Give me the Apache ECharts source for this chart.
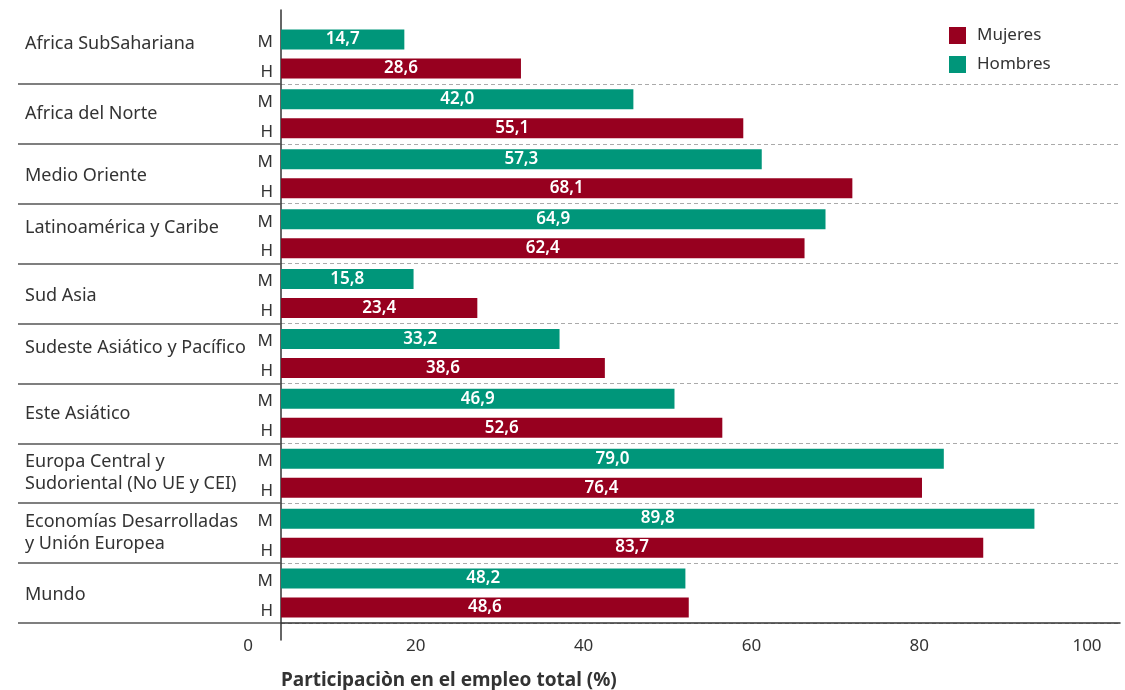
<!DOCTYPE html>
<html>
<head>
<meta charset="utf-8">
<script src="https://cdn.jsdelivr.net/npm/echarts@6/dist/echarts.min.js"></script>
<style>
  html, body { margin: 0; padding: 0; background: #fff; }
  #chart { width: 1125px; height: 690px; }
</style>
</head>
<body>
<div id="chart"></div>
<script>
// data
const regions = [
  "Africa SubSahariana",
  "Africa del Norte",
  "Medio Oriente",
  "Latinoamérica y Caribe",
  "Sud Asia",
  "Sudeste Asiático y Pacífico",
  "Este Asiático",
  "Europa Central y\nSudoriental (No UE y CEI)",
  "Economías Desarrolladas\ny Unión Europea",
  "Mundo"
];
const hombres = [14.7, 42.0, 57.3, 64.9, 15.8, 33.2, 46.9, 79.0, 89.8, 48.2]; // M rows, green
const mujeres = [28.6, 55.1, 68.1, 62.4, 23.4, 38.6, 52.6, 76.4, 83.7, 48.6]; // H rows, red
const rowTags = ["M", "H"];
const xMin = 0, xMax = 100, xStep = 20;
const xTitle = "Participaciòn en el empleo total (%)";

// small vertical nudges of the region names (px, up is positive)
const nameLift = [10, 0, -2, 6, -2, 6, -1, 0, 0, -2];

const FONT = "Noto Sans";
const GREEN = "#00967a";
const RED = "#97001f";
const TXT = "#333";

const tagCats = [];
regions.forEach(() => rowTags.forEach(t => tagCats.push(t)));

// one rich style per region name, so each can be nudged a bit
const nameRich = {};
nameLift.forEach((l, i) => {
  const multi = regions[i].indexOf("\n") >= 0;
  const lift = multi ? 0 : l;
  nameRich["s" + i] = {
    fontFamily: FONT, fontSize: 18, color: TXT, lineHeight: 22, align: "left",
    padding: lift >= 0 ? [0, 0, 2 * lift, 0] : [-2 * lift, 0, 0, 0]
  };
});
const nameFmt = (value, index) =>
  value.split("\n").map(line => "{s" + index + "|" + line + "}").join("\n");

const skipFirst = (idx) => idx > 0;
const fmt = (p) => p.value.toFixed(1).replace(".", ",");

const chart = echarts.init(document.getElementById("chart"));
chart.setOption({
  animation: false,
  textStyle: { fontFamily: FONT },
  title: {
    text: xTitle, left: 281, top: 671, padding: 0,
    textStyle: { fontFamily: FONT, fontSize: 19, fontWeight: "bold", color: TXT }
  },
  legend: {
    data: ["Mujeres", "Hombres"],
    orient: "vertical", left: 949, top: 27, padding: 0,
    itemWidth: 17, itemHeight: 17, itemGap: 12,
    icon: "rect",
    textStyle: { fontFamily: FONT, fontSize: 17, color: TXT, padding: [2, 0, 0, 6] }
  },
  grid: [
    { left: 281, right: 5, top: 24, bottom: 67, outerBoundsMode: "none", containLabel: false },
    { left: 281, right: 5, top: 10, bottom: 50, outerBoundsMode: "none", containLabel: false }
  ],
  xAxis: [
    {
      type: "value", min: xMin, max: xMax, interval: xStep, z: 5,
      axisLine: { show: true, lineStyle: { color: "#333", width: 1.5 } },
      axisTick: { show: false },
      splitLine: { show: false },
      axisLabel: {
        fontFamily: FONT, fontSize: 17, color: TXT, margin: 15,
        padding: [0, 66, 0, 0]
      }
    },
    { type: "value", gridIndex: 1, show: false, min: 0, max: 1 }
  ],
  yAxis: [
    {
      type: "category", data: regions, inverse: true,
      axisLine: { show: false },
      axisTick: {
        show: true, length: 263, interval: skipFirst,
        lineStyle: { color: "#555", width: 1.5 }
      },
      splitLine: {
        show: true, interval: skipFirst,
        lineStyle: { color: "#aaa", type: [4, 3], width: 1 }
      },
      axisLabel: {
        interval: 0, align: "left", margin: 256,
        fontFamily: FONT, fontSize: 18, color: TXT,
        formatter: nameFmt, rich: nameRich
      }
    },
    {
      type: "category", data: tagCats, inverse: true, position: "left",
      axisLine: { show: false },
      axisTick: { show: false },
      axisLabel: {
        interval: 0, margin: 8, fontFamily: FONT, fontSize: 17, color: TXT,
        formatter: (v) => "{t|" + v + "}",
        rich: { t: { fontFamily: FONT, fontSize: 17, color: TXT, padding: [6, 0, 0, 0] } }
      }
    },
    {
      type: "value", gridIndex: 1, min: 0, max: 1,
      axisLine: { show: true, onZero: false, lineStyle: { color: "#333", width: 1.5 } },
      axisTick: { show: false }, axisLabel: { show: false }, splitLine: { show: false }
    }
  ],
  series: [
    {
      name: "Hombres", type: "bar", yAxisIndex: 0, data: hombres,
      barWidth: 20, barGap: "45%",
      itemStyle: { color: GREEN },
      label: { show: true, position: "inside", formatter: fmt, color: "#fff",
               fontFamily: FONT, fontSize: 17, fontWeight: 600 }
    },
    {
      name: "Mujeres", type: "bar", yAxisIndex: 0, data: mujeres,
      barWidth: 20, barGap: "45%",
      itemStyle: { color: RED },
      label: { show: true, position: "inside", formatter: fmt, color: "#fff",
               fontFamily: FONT, fontSize: 17, fontWeight: 600 }
    }
  ]
});
</script>
</body>
</html>
